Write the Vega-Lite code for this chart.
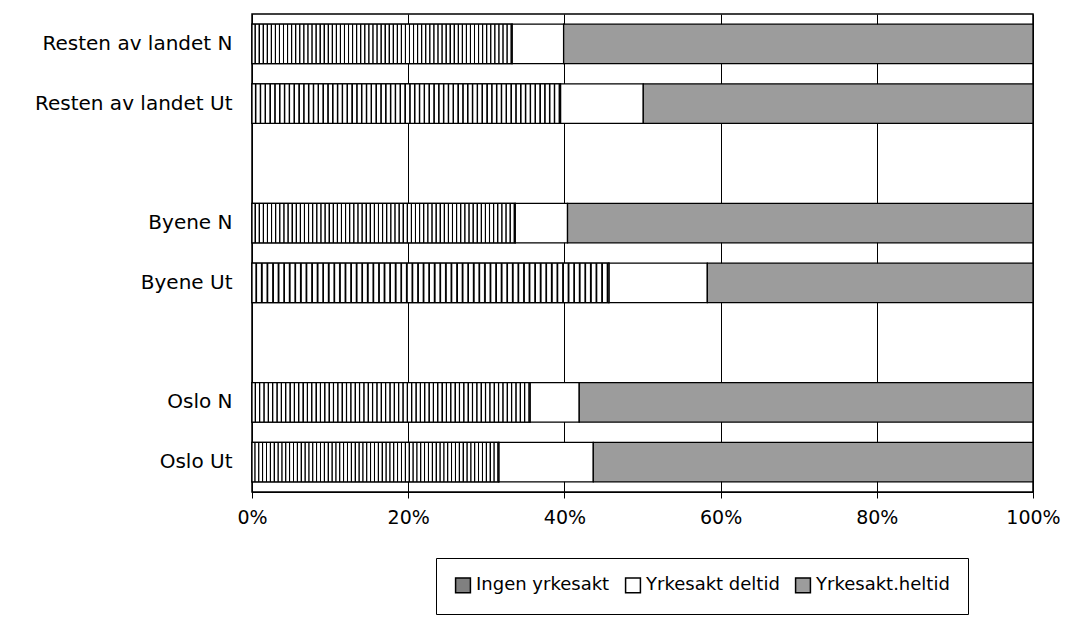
{
"$schema":"https://vega.github.io/schema/vega-lite/v6.json",
"width":781,"height":478,
"autosize":{"type":"none"},
"padding":{"left":252,"top":14,"right":34,"bottom":135},
"background":"white",
"config":{"font":"DejaVu Sans","view":{"stroke":"black","strokeWidth":1.5}},
"data":{"values":[
{"group":"Resten av landet N","status":"Ingen yrkesakt","pct":33.3},
{"group":"Resten av landet N","status":"Yrkesakt deltid","pct":6.6},
{"group":"Resten av landet N","status":"Yrkesakt.heltid","pct":60.1},
{"group":"Resten av landet Ut","status":"Ingen yrkesakt","pct":39.5},
{"group":"Resten av landet Ut","status":"Yrkesakt deltid","pct":10.6},
{"group":"Resten av landet Ut","status":"Yrkesakt.heltid","pct":49.9},
{"group":"Byene N","status":"Ingen yrkesakt","pct":33.7},
{"group":"Byene N","status":"Yrkesakt deltid","pct":6.7},
{"group":"Byene N","status":"Yrkesakt.heltid","pct":59.6},
{"group":"Byene Ut","status":"Ingen yrkesakt","pct":45.7},
{"group":"Byene Ut","status":"Yrkesakt deltid","pct":12.6},
{"group":"Byene Ut","status":"Yrkesakt.heltid","pct":41.7},
{"group":"Oslo N","status":"Ingen yrkesakt","pct":35.6},
{"group":"Oslo N","status":"Yrkesakt deltid","pct":6.3},
{"group":"Oslo N","status":"Yrkesakt.heltid","pct":58.1},
{"group":"Oslo Ut","status":"Ingen yrkesakt","pct":31.6},
{"group":"Oslo Ut","status":"Yrkesakt deltid","pct":12.1},
{"group":"Oslo Ut","status":"Yrkesakt.heltid","pct":56.3}
]},
"encoding":{
"y":{"field":"group","type":"nominal","sort":null,
"scale":{"domain":["Resten av landet N","Resten av landet Ut","gap1","Byene N","Byene Ut","gap2","Oslo N","Oslo Ut"],"paddingInner":0.34,"paddingOuter":0.17},
"axis":{"title":null,"labelExpr":"indexof(datum.value,'gap')==0 ? '' : datum.value","labelFontSize":20,"labelLimit":300,"labelColor":"black","labelPadding":20,"ticks":false,"domainColor":"black","grid":false}},
"x":{"field":"pct","type":"quantitative","stack":"zero",
"scale":{"domain":[0,100],"nice":false},
"axis":{"title":null,"values":[0,20,40,60,80,100],"labelExpr":"datum.value + '%'","labelFlush":false,"labelFontSize":19,"labelColor":"black","labelPadding":10,"tickSize":6,"tickColor":"black","domainColor":"black","grid":true,"gridColor":"black","gridOpacity":1}}
},
"layer":[
{
"mark":{"type":"bar","stroke":"black","strokeWidth":1.3},
"encoding":{
"color":{"field":"status","type":"nominal",
"scale":{"domain":["Ingen yrkesakt","Yrkesakt deltid","Yrkesakt.heltid"],"range":["#808080","#ffffff","#9c9c9c"]},
"legend":{"orient":"none","legendX":184,"legendY":544,"direction":"horizontal","title":null,"symbolType":"square","symbolSize":220,"labelFontSize":18,"labelColor":"black","columnPadding":12,"strokeColor":"black","padding":18}}
}
},
{
"transform":[{"filter":"datum.status === 'Ingen yrkesakt'"}],
"mark":{"type":"bar","stroke":"black","strokeWidth":1.3,"fill":{"gradient":"linear","x1":0,"y1":0,"x2":1,"y2":0,"stops":[
{"offset":0,"color":"#fff"},{"offset":0.0078,"color":"#fff"},{"offset":0.0109,"color":"#000"},{"offset":0.0133,"color":"#000"},
{"offset":0.015625,"color":"#fff"},{"offset":0.0234,"color":"#fff"},{"offset":0.0266,"color":"#000"},{"offset":0.0289,"color":"#000"},
{"offset":0.03125,"color":"#fff"},{"offset":0.0391,"color":"#fff"},{"offset":0.0422,"color":"#000"},{"offset":0.0445,"color":"#000"},
{"offset":0.046875,"color":"#fff"},{"offset":0.0547,"color":"#fff"},{"offset":0.0578,"color":"#000"},{"offset":0.0602,"color":"#000"},
{"offset":0.0625,"color":"#fff"},{"offset":0.0703,"color":"#fff"},{"offset":0.0734,"color":"#000"},{"offset":0.0758,"color":"#000"},
{"offset":0.078125,"color":"#fff"},{"offset":0.0859,"color":"#fff"},{"offset":0.0891,"color":"#000"},{"offset":0.0914,"color":"#000"},
{"offset":0.09375,"color":"#fff"},{"offset":0.1016,"color":"#fff"},{"offset":0.1047,"color":"#000"},{"offset":0.107,"color":"#000"},
{"offset":0.109375,"color":"#fff"},{"offset":0.1172,"color":"#fff"},{"offset":0.1203,"color":"#000"},{"offset":0.1227,"color":"#000"},
{"offset":0.125,"color":"#fff"},{"offset":0.1328,"color":"#fff"},{"offset":0.1359,"color":"#000"},{"offset":0.1383,"color":"#000"},
{"offset":0.140625,"color":"#fff"},{"offset":0.1484,"color":"#fff"},{"offset":0.1516,"color":"#000"},{"offset":0.1539,"color":"#000"},
{"offset":0.15625,"color":"#fff"},{"offset":0.1641,"color":"#fff"},{"offset":0.1672,"color":"#000"},{"offset":0.1695,"color":"#000"},
{"offset":0.171875,"color":"#fff"},{"offset":0.1797,"color":"#fff"},{"offset":0.1828,"color":"#000"},{"offset":0.1852,"color":"#000"},
{"offset":0.1875,"color":"#fff"},{"offset":0.1953,"color":"#fff"},{"offset":0.1984,"color":"#000"},{"offset":0.2008,"color":"#000"},
{"offset":0.203125,"color":"#fff"},{"offset":0.2109,"color":"#fff"},{"offset":0.2141,"color":"#000"},{"offset":0.2164,"color":"#000"},
{"offset":0.21875,"color":"#fff"},{"offset":0.2266,"color":"#fff"},{"offset":0.2297,"color":"#000"},{"offset":0.232,"color":"#000"},
{"offset":0.234375,"color":"#fff"},{"offset":0.2422,"color":"#fff"},{"offset":0.2453,"color":"#000"},{"offset":0.2477,"color":"#000"},
{"offset":0.25,"color":"#fff"},{"offset":0.2578,"color":"#fff"},{"offset":0.2609,"color":"#000"},{"offset":0.2633,"color":"#000"},
{"offset":0.265625,"color":"#fff"},{"offset":0.2734,"color":"#fff"},{"offset":0.2766,"color":"#000"},{"offset":0.2789,"color":"#000"},
{"offset":0.28125,"color":"#fff"},{"offset":0.2891,"color":"#fff"},{"offset":0.2922,"color":"#000"},{"offset":0.2945,"color":"#000"},
{"offset":0.296875,"color":"#fff"},{"offset":0.3047,"color":"#fff"},{"offset":0.3078,"color":"#000"},{"offset":0.3102,"color":"#000"},
{"offset":0.3125,"color":"#fff"},{"offset":0.3203,"color":"#fff"},{"offset":0.3234,"color":"#000"},{"offset":0.3258,"color":"#000"},
{"offset":0.328125,"color":"#fff"},{"offset":0.3359,"color":"#fff"},{"offset":0.3391,"color":"#000"},{"offset":0.3414,"color":"#000"},
{"offset":0.34375,"color":"#fff"},{"offset":0.3516,"color":"#fff"},{"offset":0.3547,"color":"#000"},{"offset":0.357,"color":"#000"},
{"offset":0.359375,"color":"#fff"},{"offset":0.3672,"color":"#fff"},{"offset":0.3703,"color":"#000"},{"offset":0.3727,"color":"#000"},
{"offset":0.375,"color":"#fff"},{"offset":0.3828,"color":"#fff"},{"offset":0.3859,"color":"#000"},{"offset":0.3883,"color":"#000"},
{"offset":0.390625,"color":"#fff"},{"offset":0.3984,"color":"#fff"},{"offset":0.4016,"color":"#000"},{"offset":0.4039,"color":"#000"},
{"offset":0.40625,"color":"#fff"},{"offset":0.4141,"color":"#fff"},{"offset":0.4172,"color":"#000"},{"offset":0.4195,"color":"#000"},
{"offset":0.421875,"color":"#fff"},{"offset":0.4297,"color":"#fff"},{"offset":0.4328,"color":"#000"},{"offset":0.4352,"color":"#000"},
{"offset":0.4375,"color":"#fff"},{"offset":0.4453,"color":"#fff"},{"offset":0.4484,"color":"#000"},{"offset":0.4508,"color":"#000"},
{"offset":0.453125,"color":"#fff"},{"offset":0.4609,"color":"#fff"},{"offset":0.4641,"color":"#000"},{"offset":0.4664,"color":"#000"},
{"offset":0.46875,"color":"#fff"},{"offset":0.4766,"color":"#fff"},{"offset":0.4797,"color":"#000"},{"offset":0.482,"color":"#000"},
{"offset":0.484375,"color":"#fff"},{"offset":0.4922,"color":"#fff"},{"offset":0.4953,"color":"#000"},{"offset":0.4977,"color":"#000"},
{"offset":0.5,"color":"#fff"},{"offset":0.5078,"color":"#fff"},{"offset":0.5109,"color":"#000"},{"offset":0.5133,"color":"#000"},
{"offset":0.515625,"color":"#fff"},{"offset":0.5234,"color":"#fff"},{"offset":0.5266,"color":"#000"},{"offset":0.5289,"color":"#000"},
{"offset":0.53125,"color":"#fff"},{"offset":0.5391,"color":"#fff"},{"offset":0.5422,"color":"#000"},{"offset":0.5445,"color":"#000"},
{"offset":0.546875,"color":"#fff"},{"offset":0.5547,"color":"#fff"},{"offset":0.5578,"color":"#000"},{"offset":0.5602,"color":"#000"},
{"offset":0.5625,"color":"#fff"},{"offset":0.5703,"color":"#fff"},{"offset":0.5734,"color":"#000"},{"offset":0.5758,"color":"#000"},
{"offset":0.578125,"color":"#fff"},{"offset":0.5859,"color":"#fff"},{"offset":0.5891,"color":"#000"},{"offset":0.5914,"color":"#000"},
{"offset":0.59375,"color":"#fff"},{"offset":0.6016,"color":"#fff"},{"offset":0.6047,"color":"#000"},{"offset":0.607,"color":"#000"},
{"offset":0.609375,"color":"#fff"},{"offset":0.6172,"color":"#fff"},{"offset":0.6203,"color":"#000"},{"offset":0.6227,"color":"#000"},
{"offset":0.625,"color":"#fff"},{"offset":0.6328,"color":"#fff"},{"offset":0.6359,"color":"#000"},{"offset":0.6383,"color":"#000"},
{"offset":0.640625,"color":"#fff"},{"offset":0.6484,"color":"#fff"},{"offset":0.6516,"color":"#000"},{"offset":0.6539,"color":"#000"},
{"offset":0.65625,"color":"#fff"},{"offset":0.6641,"color":"#fff"},{"offset":0.6672,"color":"#000"},{"offset":0.6695,"color":"#000"},
{"offset":0.671875,"color":"#fff"},{"offset":0.6797,"color":"#fff"},{"offset":0.6828,"color":"#000"},{"offset":0.6852,"color":"#000"},
{"offset":0.6875,"color":"#fff"},{"offset":0.6953,"color":"#fff"},{"offset":0.6984,"color":"#000"},{"offset":0.7008,"color":"#000"},
{"offset":0.703125,"color":"#fff"},{"offset":0.7109,"color":"#fff"},{"offset":0.7141,"color":"#000"},{"offset":0.7164,"color":"#000"},
{"offset":0.71875,"color":"#fff"},{"offset":0.7266,"color":"#fff"},{"offset":0.7297,"color":"#000"},{"offset":0.732,"color":"#000"},
{"offset":0.734375,"color":"#fff"},{"offset":0.7422,"color":"#fff"},{"offset":0.7453,"color":"#000"},{"offset":0.7477,"color":"#000"},
{"offset":0.75,"color":"#fff"},{"offset":0.7578,"color":"#fff"},{"offset":0.7609,"color":"#000"},{"offset":0.7633,"color":"#000"},
{"offset":0.765625,"color":"#fff"},{"offset":0.7734,"color":"#fff"},{"offset":0.7766,"color":"#000"},{"offset":0.7789,"color":"#000"},
{"offset":0.78125,"color":"#fff"},{"offset":0.7891,"color":"#fff"},{"offset":0.7922,"color":"#000"},{"offset":0.7945,"color":"#000"},
{"offset":0.796875,"color":"#fff"},{"offset":0.8047,"color":"#fff"},{"offset":0.8078,"color":"#000"},{"offset":0.8102,"color":"#000"},
{"offset":0.8125,"color":"#fff"},{"offset":0.8203,"color":"#fff"},{"offset":0.8234,"color":"#000"},{"offset":0.8258,"color":"#000"},
{"offset":0.828125,"color":"#fff"},{"offset":0.8359,"color":"#fff"},{"offset":0.8391,"color":"#000"},{"offset":0.8414,"color":"#000"},
{"offset":0.84375,"color":"#fff"},{"offset":0.8516,"color":"#fff"},{"offset":0.8547,"color":"#000"},{"offset":0.857,"color":"#000"},
{"offset":0.859375,"color":"#fff"},{"offset":0.8672,"color":"#fff"},{"offset":0.8703,"color":"#000"},{"offset":0.8727,"color":"#000"},
{"offset":0.875,"color":"#fff"},{"offset":0.8828,"color":"#fff"},{"offset":0.8859,"color":"#000"},{"offset":0.8883,"color":"#000"},
{"offset":0.890625,"color":"#fff"},{"offset":0.8984,"color":"#fff"},{"offset":0.9016,"color":"#000"},{"offset":0.9039,"color":"#000"},
{"offset":0.90625,"color":"#fff"},{"offset":0.9141,"color":"#fff"},{"offset":0.9172,"color":"#000"},{"offset":0.9195,"color":"#000"},
{"offset":0.921875,"color":"#fff"},{"offset":0.9297,"color":"#fff"},{"offset":0.9328,"color":"#000"},{"offset":0.9352,"color":"#000"},
{"offset":0.9375,"color":"#fff"},{"offset":0.9453,"color":"#fff"},{"offset":0.9484,"color":"#000"},{"offset":0.9508,"color":"#000"},
{"offset":0.953125,"color":"#fff"},{"offset":0.9609,"color":"#fff"},{"offset":0.9641,"color":"#000"},{"offset":0.9664,"color":"#000"},
{"offset":0.96875,"color":"#fff"},{"offset":0.9766,"color":"#fff"},{"offset":0.9797,"color":"#000"},{"offset":0.982,"color":"#000"},
{"offset":0.984375,"color":"#fff"},{"offset":0.9922,"color":"#fff"},{"offset":0.9953,"color":"#000"},{"offset":0.9977,"color":"#000"},
{"offset":1,"color":"#fff"}
]}}
}
]
}
